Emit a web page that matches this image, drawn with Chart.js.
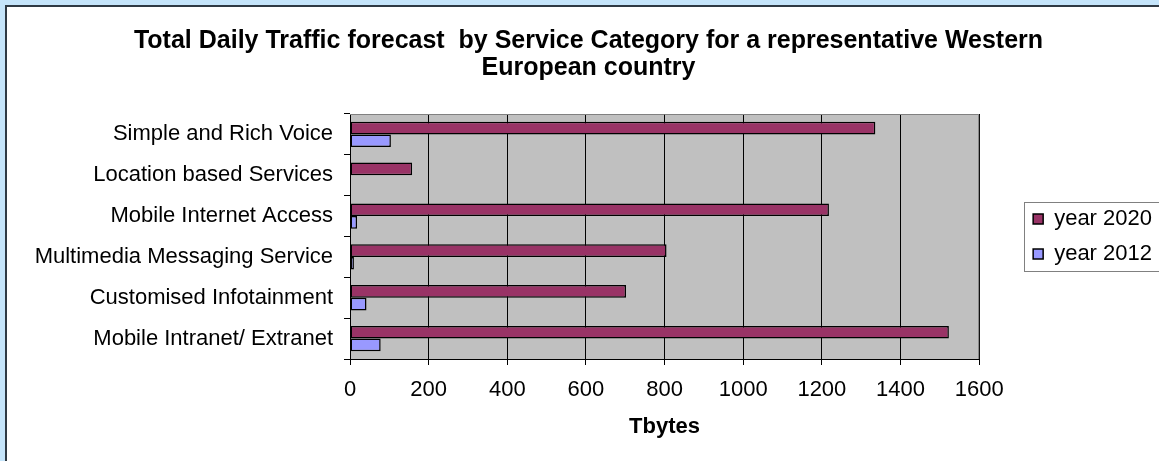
<!DOCTYPE html>
<html>
<head>
<meta charset="utf-8">
<script src="https://cdn.jsdelivr.net/npm/chart.js"></script>
<style>
    body { margin: 0; background: #c5e5fb; width: 1159px; height: 461px; overflow: hidden; position: relative; }
    #frame { position: absolute; left: 5px; top: 5px; width: 1200px; height: 500px; background: #fff; border: 2px solid #2f3a44; }
    #chart { position: absolute; left: 0; top: 0; }
</style>
</head>
<body>
<div id="frame"></div>
<canvas id="chart" width="1159" height="461"></canvas>
<script>
// Chart data
const categories = [
    'Simple and Rich Voice',
    'Location based Services',
    'Mobile Internet Access',
    'Multimedia Messaging Service',
    'Customised Infotainment',
    'Mobile Intranet/ Extranet'
];
const year2020 = [1336, 158, 1218, 805, 702, 1523];
const year2012 = [104, 0, 18, 10, 42, 78];
const xTicks = [0, 200, 400, 600, 800, 1000, 1200, 1400, 1600];

Chart.defaults.font.family = "'Liberation Sans', Arial, sans-serif";
Chart.defaults.color = '#000';

// Grey plot background, grey frame on top/right, box round the legend
const plotFrame = {
    id: 'plotFrame',
    beforeDraw(chart) {
        const { ctx, chartArea: a } = chart;
        ctx.save();
        ctx.fillStyle = '#c0c0c0';
        ctx.fillRect(a.left, a.top, a.right - a.left, a.bottom - a.top);
        ctx.restore();
    },
    beforeDatasetsDraw(chart) {
        const { ctx, chartArea: a } = chart;
        ctx.save();
        ctx.strokeStyle = '#808080';
        ctx.lineWidth = 1;
        ctx.beginPath();
        ctx.moveTo(a.left, a.top + 0.5);
        ctx.lineTo(a.right - 0.5, a.top + 0.5);
        ctx.lineTo(a.right - 0.5, a.bottom);
        ctx.stroke();
        ctx.restore();
    },
    afterDraw(chart) {
        const { ctx } = chart;
        ctx.save();
        ctx.strokeStyle = '#808080';
        ctx.lineWidth = 1;
        ctx.strokeRect(1024.5, 202.5, 200, 69);
        ctx.restore();
    }
};

function displayChart() {
    const ctx = document.getElementById('chart').getContext('2d');
    new Chart(ctx, {
        type: 'bar',
        data: {
            labels: categories,
            datasets: [
                {
                    label: 'year 2020',
                    data: year2020,
                    backgroundColor: '#993366',
                    borderColor: '#000',
                    borderWidth: 1.5,
                    borderSkipped: false,
                },
                {
                    label: 'year 2012',
                    data: year2012,
                    backgroundColor: '#9999ff',
                    borderColor: '#000',
                    borderWidth: 1.5,
                    borderSkipped: false,
                },
            ],
        },
        options: {
            indexAxis: 'y',
            responsive: false,
            animation: false,
            categoryPercentage: 0.62,
            barPercentage: 1,
            layout: { padding: { left: 15, right: -3, top: 0, bottom: 0 } },
            plugins: {
                title: {
                    display: true,
                    text: ['Total Daily Traffic forecast  by Service Category for a representative Western', 'European country'],
                    font: { size: 25, weight: 'bold', lineHeight: 1.1 },
                    padding: { top: 27, bottom: 32 },
                    color: '#000',
                },
                legend: {
                    position: 'right',
                    title: { display: true, text: ' ', font: { size: 10, lineHeight: 1.2 }, padding: 0 },
                    labels: {
                        boxWidth: 10,
                        boxHeight: 10,
                        padding: 13,
                        font: { size: 22 },
                        color: '#000',
                    },
                },
                tooltip: { enabled: false },
            },
            scales: {
                x: {
                    min: 0,
                    max: 1600,
                    afterBuildTicks: (s) => { s.ticks = xTicks.map(v => ({ value: v })); },
                    ticks: { font: { size: 22 }, padding: 12, color: '#000', callback: (v) => String(v) },
                    grid: { color: '#000', tickLength: 6 },
                    border: { color: '#000' },
                    title: {
                        display: true,
                        text: 'Tbytes',
                        font: { size: 22, weight: 'bold' },
                        padding: { top: 0, bottom: 21 },
                        color: '#000',
                    },
                    afterFit: (s) => { s.height = 102; },
                },
                y: {
                    ticks: { font: { size: 22 }, padding: 11, color: '#000' },
                    grid: { drawOnChartArea: false, color: '#000', tickLength: 6 },
                    border: { color: '#000' },
                    afterFit: (s) => { s.width = 335; },
                },
                yR: {
                    type: 'linear',
                    position: 'right',
                    ticks: { display: false },
                    grid: { display: false },
                    border: { display: false },
                    afterFit: (s) => { s.width = 41; },
                },
            },
        },
        plugins: [plotFrame],
    });
}

window.onload = () => {
    displayChart();
};
</script>
</body>
</html>
